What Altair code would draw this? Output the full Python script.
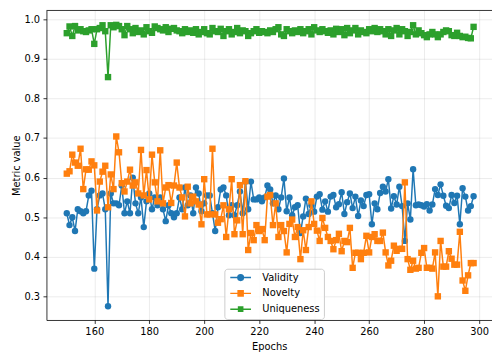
import altair as alt
import pandas as pd

epochs = list(range(150, 299))

validity = [
    0.51, 0.48, 0.50, 0.465, 0.52, 0.515, 0.51, 0.515, 0.555, 0.567,
    0.37, 0.52, 0.555, 0.56, 0.52, 0.275, 0.56, 0.535, 0.535, 0.53,
    0.58, 0.51, 0.54, 0.51, 0.60, 0.535, 0.51, 0.55, 0.475, 0.54,
    0.56, 0.52, 0.55, 0.53, 0.55, 0.52, 0.49, 0.53, 0.51, 0.50,
    0.51, 0.55, 0.52, 0.575, 0.53, 0.555, 0.51, 0.575, 0.56, 0.515,
    0.535, 0.555, 0.555, 0.51, 0.465, 0.525, 0.57, 0.575, 0.555, 0.505,
    0.53, 0.505, 0.53, 0.565, 0.51, 0.59, 0.52, 0.59, 0.545, 0.545,
    0.55, 0.54, 0.55, 0.58, 0.57, 0.535, 0.555, 0.52, 0.55, 0.598,
    0.515, 0.55, 0.505, 0.525, 0.53, 0.46, 0.502, 0.547, 0.508, 0.53,
    0.514, 0.552, 0.558, 0.519, 0.54, 0.514, 0.552, 0.556, 0.525, 0.533,
    0.563, 0.508, 0.538, 0.56, 0.523, 0.552, 0.503, 0.542, 0.528, 0.556,
    0.558, 0.482, 0.535, 0.52, 0.561, 0.577, 0.565, 0.596, 0.522, 0.553,
    0.532, 0.577, 0.528, 0.44, 0.535, 0.494, 0.621, 0.53, 0.532, 0.53,
    0.527, 0.533, 0.517, 0.532, 0.571, 0.556, 0.583, 0.554, 0.529, 0.523,
    0.556, 0.536, 0.554, 0.482, 0.573, 0.552, 0.517, 0.528, 0.553,
]

novelty = [
    0.61, 0.616, 0.658, 0.638, 0.63, 0.673, 0.571, 0.621, 0.62, 0.641,
    0.631, 0.517, 0.59, 0.615, 0.63, 0.525, 0.608, 0.571, 0.704, 0.664,
    0.586, 0.565, 0.59, 0.62, 0.58, 0.588, 0.56, 0.67, 0.555, 0.619,
    0.545, 0.658, 0.588, 0.54, 0.669, 0.535, 0.575, 0.581, 0.536, 0.58,
    0.638, 0.575, 0.55, 0.502, 0.577, 0.535, 0.552, 0.54, 0.532, 0.482,
    0.596, 0.507, 0.507, 0.673, 0.507, 0.486, 0.495, 0.53, 0.45, 0.52,
    0.596, 0.457, 0.492, 0.581, 0.457, 0.591, 0.417, 0.46, 0.442, 0.48,
    0.465, 0.47, 0.442, 0.552, 0.556, 0.48, 0.535, 0.45, 0.48, 0.465,
    0.411, 0.483, 0.494, 0.45, 0.475, 0.394, 0.467, 0.417, 0.475, 0.54,
    0.483, 0.466, 0.44, 0.498, 0.473, 0.45, 0.44, 0.419, 0.442, 0.458,
    0.414, 0.44, 0.437, 0.473, 0.372, 0.41, 0.41, 0.394, 0.41, 0.453,
    0.411, 0.45, 0.457, 0.44, 0.44, 0.461, 0.411, 0.378, 0.39, 0.428,
    0.415, 0.42, 0.42, 0.588, 0.394, 0.367, 0.39, 0.37, 0.372, 0.41,
    0.422, 0.372, 0.372, 0.37, 0.411, 0.3, 0.44, 0.375, 0.375, 0.414,
    0.395, 0.38, 0.38, 0.463, 0.34, 0.314, 0.353, 0.384, 0.384,
]

uniqueness = [
    0.965, 0.982, 0.958, 0.983, 0.972, 0.975, 0.970, 0.968, 0.972, 0.975,
    0.938, 0.975, 0.978, 0.985, 0.970, 0.854, 0.985, 0.980, 0.986, 0.983,
    0.975, 0.960, 0.983, 0.975, 0.965, 0.978, 0.968, 0.972, 0.962, 0.980,
    0.970, 0.966, 0.982, 0.978, 0.975, 0.972, 0.980, 0.968, 0.976, 0.978,
    0.972, 0.970, 0.965, 0.975, 0.968, 0.972, 0.966, 0.975, 0.962, 0.968,
    0.975, 0.965, 0.962, 0.978, 0.970, 0.968, 0.976, 0.958, 0.970, 0.975,
    0.962, 0.968, 0.978, 0.965, 0.972, 0.970, 0.958, 0.965, 0.970, 0.975,
    0.966, 0.970, 0.968, 0.965, 0.972, 0.968, 0.975, 0.980, 0.962, 0.958,
    0.975, 0.970, 0.965, 0.972, 0.968, 0.975, 0.965, 0.970, 0.975, 0.962,
    0.980, 0.972, 0.968, 0.975, 0.970, 0.966, 0.972, 0.962, 0.976, 0.968,
    0.975, 0.960, 0.978, 0.965, 0.972, 0.978, 0.962, 0.972, 0.968, 0.965,
    0.975, 0.970, 0.978, 0.968, 0.975, 0.970, 0.962, 0.975, 0.958, 0.972,
    0.978, 0.962, 0.975, 0.970, 0.958, 0.968, 0.985, 0.962, 0.972, 0.965,
    0.960, 0.955, 0.962, 0.968, 0.962, 0.955, 0.962, 0.968, 0.972, 0.970,
    0.960, 0.958, 0.966, 0.958, 0.955, 0.956, 0.953, 0.952, 0.981,
]

series_names = ["Validity", "Novelty", "Uniqueness"]
series_colors = ["#1f77b4", "#ff7f0e", "#2ca02c"]
series_shapes = ["circle", "square", "square"]
# legend symbols: a line segment with the series marker in its middle
legend_paths = [
    "M-3.5,0H3.5M-0.95,0A0.95,0.95 0 1,0 0.95,0A0.95,0.95 0 1,0 -0.95,0Z",
    "M-3.5,0H3.5M-0.85,-0.85H0.85V0.85H-0.85Z",
    "M-3.5,0H3.5M-0.7,-0.7H0.7V0.7H-0.7Z",
]
x_ticks = [160, 180, 200, 220, 240, 260, 280, 300]
y_ticks = [0.3, 0.4, 0.5, 0.6, 0.7, 0.8, 0.9, 1.0]

W, H = 452, 314
FONT = "DejaVu Sans"

frames = {
    name: pd.DataFrame({"epoch": epochs, "value": vals, "series": name})
    for name, vals in zip(series_names, [validity, novelty, uniqueness])
}
all_df = pd.concat(list(frames.values()), ignore_index=True)

x_enc = alt.X("epoch:Q",
              scale=alt.Scale(domain=[142.6, 304.7], nice=False, zero=False),
              axis=alt.Axis(values=x_ticks, title="Epochs", format="d"))
y_enc = alt.Y("value:Q",
              scale=alt.Scale(domain=[0.2402, 1.0224], nice=False, zero=False),
              axis=alt.Axis(values=y_ticks, title="Metric value", format=".1f"))
color_scale = alt.Scale(domain=series_names, range=series_colors)
path_scale = alt.Scale(domain=series_names, range=legend_paths)

legend = alt.Legend(
    orient="none", legendX=180.5, legendY=262.0, title=None,
    symbolSize=36, symbolStrokeWidth=1.5, symbolOpacity=1,
    symbolOffset=7.5, labelOffset=17, rowPadding=4.0, padding=4,
    fillColor="rgba(255,255,255,0.8)", strokeColor="#cccccc", cornerRadius=3,
    labelFont=FONT, labelFontSize=10, labelColor="black",
)

layers = []
for name, shape in zip(series_names, series_shapes):
    df = frames[name]
    line = alt.Chart(df).mark_line(strokeWidth=1.5).encode(
        x=x_enc, y=y_enc,
        color=alt.Color("series:N", scale=color_scale, legend=None),
    )
    pts = alt.Chart(df).mark_point(filled=True, size=42, opacity=1, shape=shape).encode(
        x=x_enc, y=y_enc,
        color=alt.Color("series:N", scale=color_scale, legend=None),
    )
    layers += [line, pts]

# invisible layer over the same data that only carries the legend
legend_layer = alt.Chart(all_df).mark_point(
    filled=True, opacity=0, strokeWidth=1.5, size=36
).encode(
    x=x_enc, y=y_enc,
    color=alt.Color("series:N", scale=color_scale, legend=legend),
    stroke=alt.Stroke("series:N", scale=color_scale, legend=legend),
    shape=alt.Shape("series:N", scale=path_scale, legend=legend),
)

top_spine = alt.Chart(pd.DataFrame({"k": [0]})).mark_rule(
    color="black", strokeWidth=0.8
).encode(x=alt.value(0), x2=alt.value(W), y=alt.value(0))

chart = alt.layer(*layers, legend_layer, top_spine).resolve_legend(
    color="independent", shape="independent", stroke="independent"
).properties(
    width=W, height=H,
    autosize=alt.AutoSizeParams(type="none"),
    padding={"left": 39, "top": 0, "right": 0, "bottom": 32},
).configure_view(stroke=None).configure_axis(
    domainColor="black", domainWidth=0.8,
    tickColor="black", tickWidth=0.8, tickSize=3.5,
    labelFont=FONT, labelFontSize=10, labelColor="black", labelPadding=3.5,
    titleFont=FONT, titleFontSize=10, titleFontWeight="normal", titleColor="black",
    gridColor="#b0b0b0", gridOpacity=0.3, gridWidth=0.8,
).configure_axisY(titlePadding=2).configure_axisX(titlePadding=5)

chart.save("out.html", embed_options={"renderer": "svg", "actions": False})
